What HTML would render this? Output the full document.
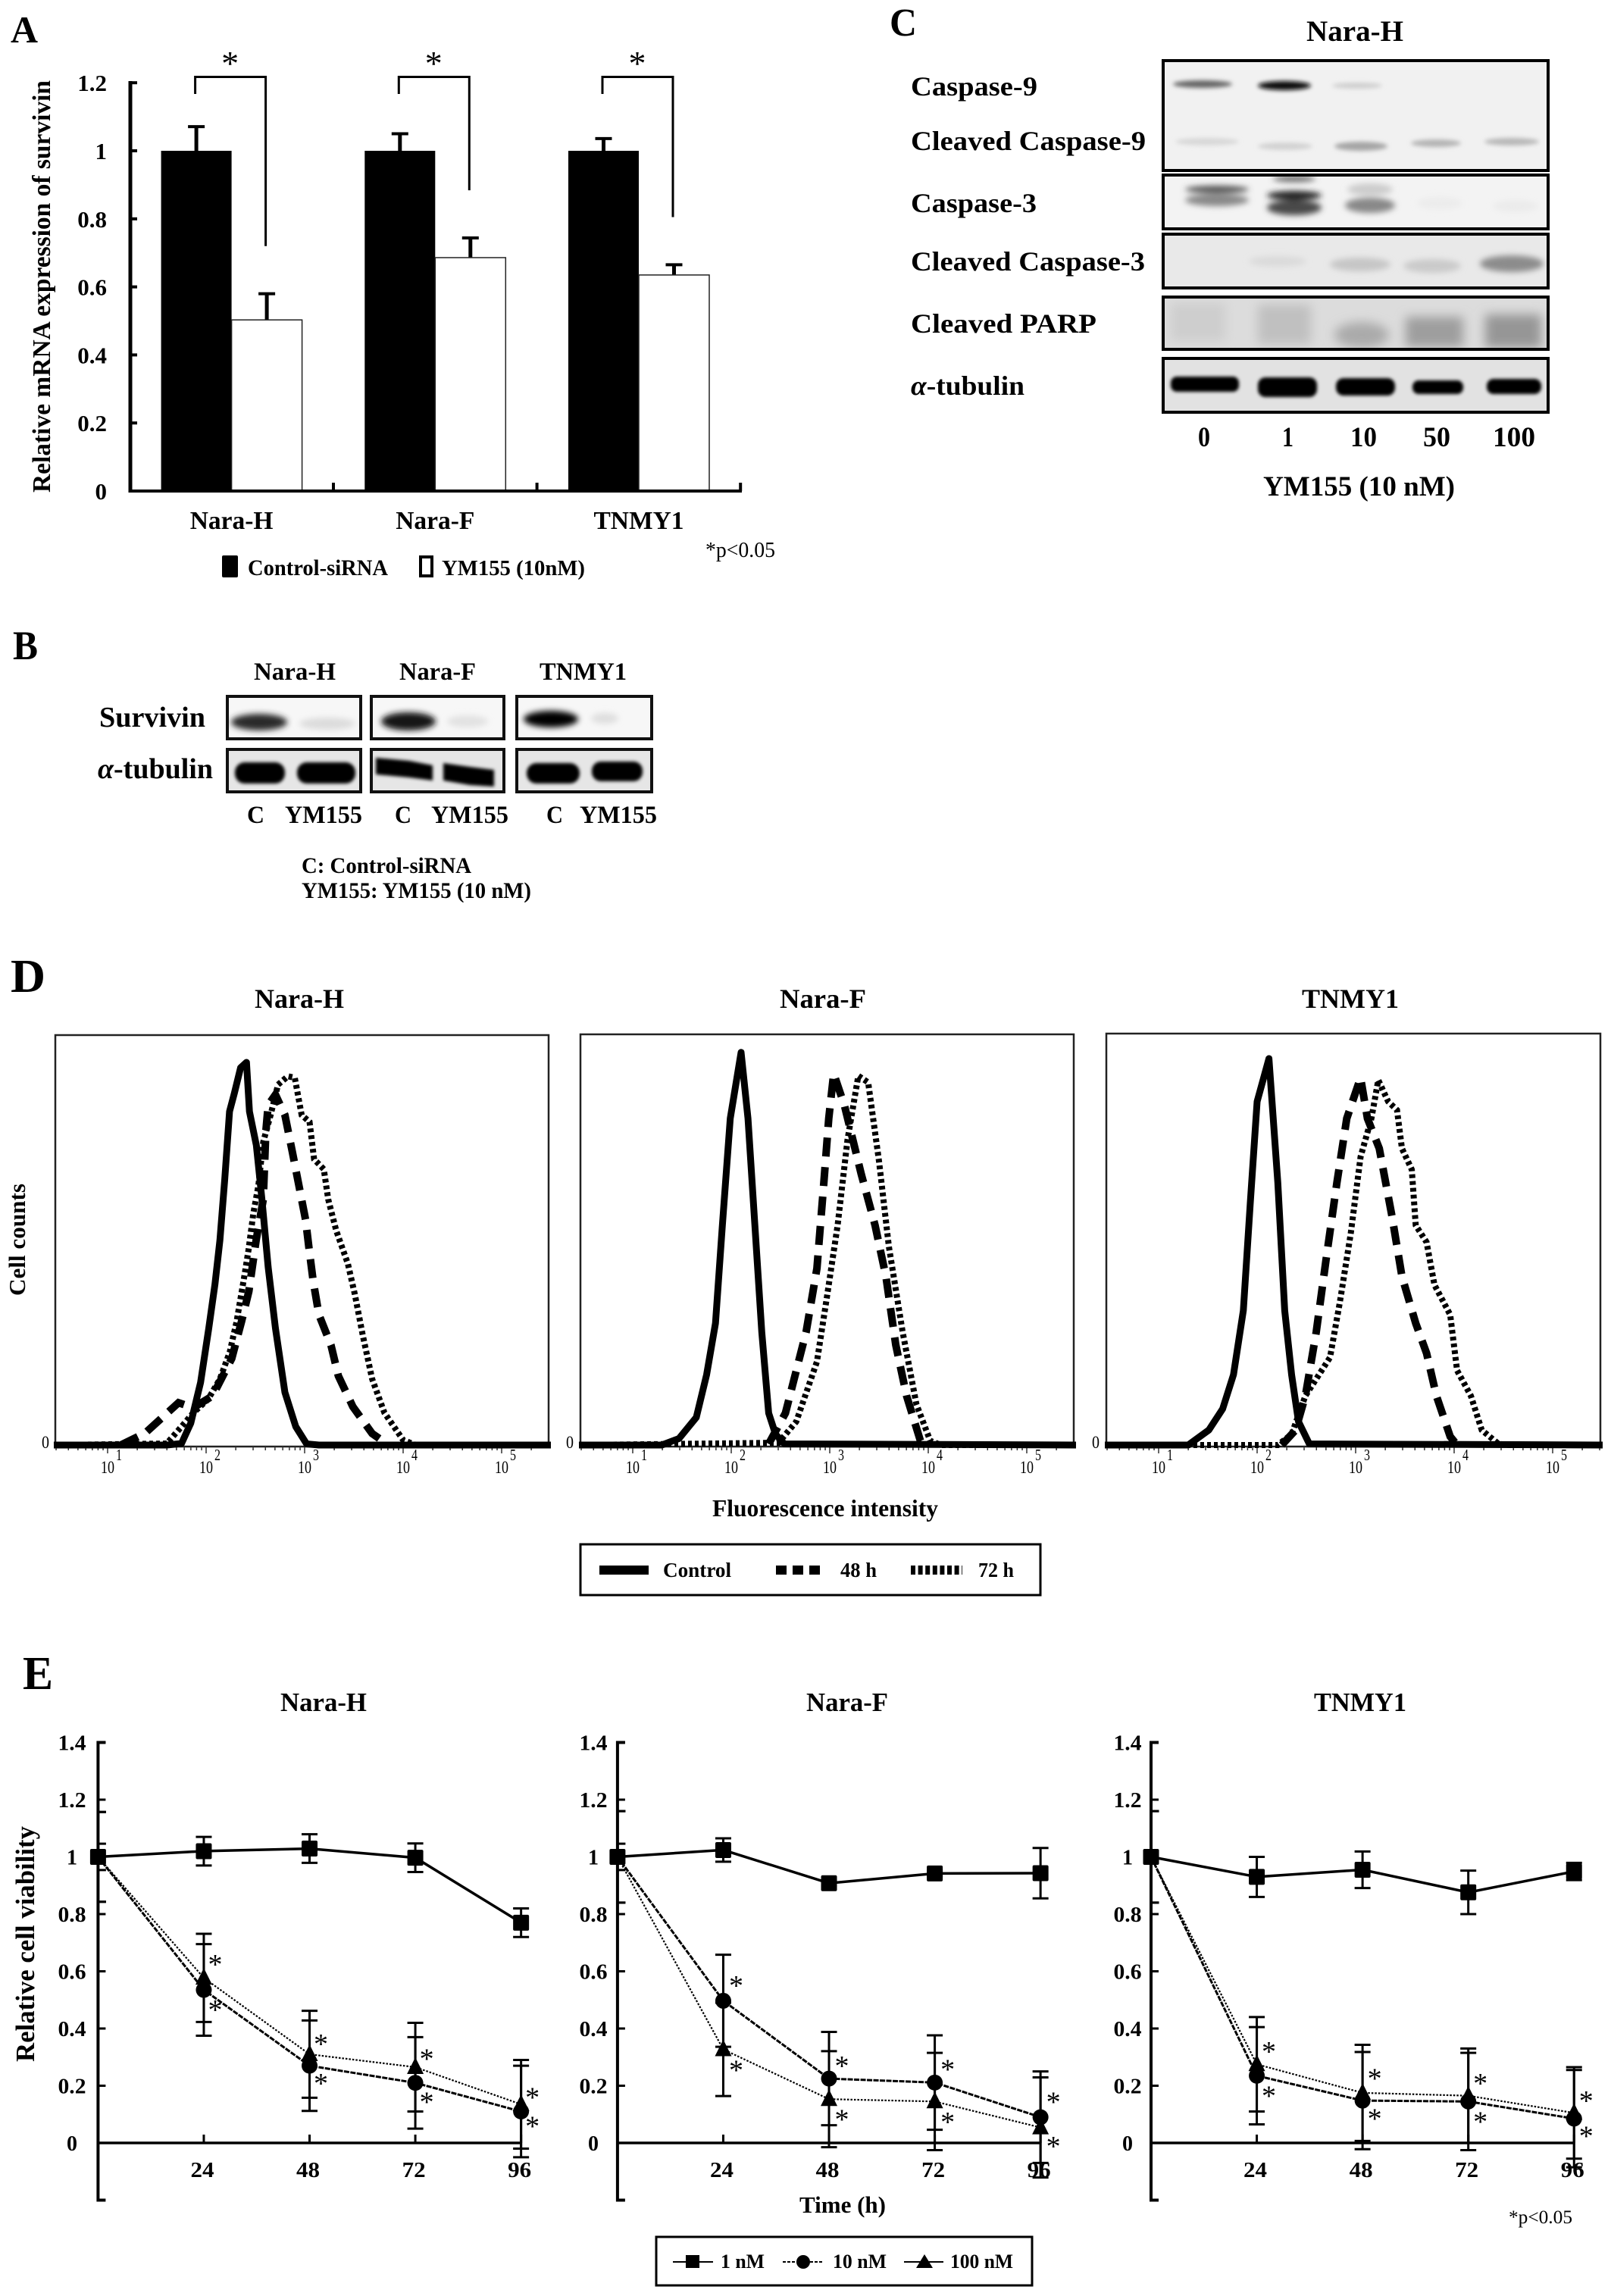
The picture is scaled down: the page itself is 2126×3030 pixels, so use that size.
<!DOCTYPE html>
<html lang="en">
<head>
<meta charset="utf-8">
<title>YM155 survivin figure</title>
<style>
html,body{margin:0;padding:0;background:#fff;width:2126px;height:3030px;overflow:hidden}
svg{display:block}
text{fill:#000}
.b{font-weight:bold}
</style>
</head>
<body>
<svg id="figure" xmlns="http://www.w3.org/2000/svg" width="2126" height="3030" viewBox="0 0 2126 3030" font-family="'Liberation Serif',serif">
<defs>
<filter id="b2" x="-30%" y="-60%" width="160%" height="220%"><feGaussianBlur stdDeviation="2"/></filter>
<filter id="b25" x="-30%" y="-200%" width="160%" height="500%"><feGaussianBlur stdDeviation="3"/></filter>
<filter id="b3" x="-30%" y="-80%" width="160%" height="260%"><feGaussianBlur stdDeviation="4"/></filter>
<filter id="b6" x="-40%" y="-100%" width="180%" height="300%"><feGaussianBlur stdDeviation="7"/></filter>
<clipPath id="blotClip">
<rect x="300" y="919" width="176" height="56"/><rect x="490" y="919" width="175" height="56"/><rect x="682" y="919" width="178" height="56"/>
<rect x="300" y="989" width="176" height="56"/><rect x="490" y="989" width="175" height="56"/><rect x="682" y="989" width="178" height="56"/>
<rect x="1535" y="80" width="508" height="145"/><rect x="1535" y="231" width="508" height="71"/><rect x="1535" y="309" width="508" height="71"/><rect x="1535" y="392" width="508" height="69"/><rect x="1535" y="473" width="508" height="71"/>
</clipPath>
</defs>

<!-- Panel letters -->
<text class="b" x="14" y="56" font-size="50" textLength="36" lengthAdjust="spacingAndGlyphs">A</text>
<text class="b" x="17" y="870" font-size="54" textLength="33" lengthAdjust="spacingAndGlyphs">B</text>
<text class="b" x="1174" y="47" font-size="52" textLength="36" lengthAdjust="spacingAndGlyphs">C</text>
<text class="b" x="14" y="1309" font-size="62" textLength="46" lengthAdjust="spacingAndGlyphs">D</text>
<text class="b" x="30" y="2229" font-size="62" textLength="40" lengthAdjust="spacingAndGlyphs">E</text>

<!-- Panel A static text -->
<g id="panelA">
<text class="b" transform="translate(66,650) rotate(-90)" font-size="33.5" textLength="544" lengthAdjust="spacingAndGlyphs">Relative mRNA expression of survivin</text>
<text x="931" y="735" font-size="28" textLength="92" lengthAdjust="spacingAndGlyphs">*p&lt;0.05</text>
<rect x="293" y="733" width="21" height="29" rx="2" fill="#000"/>
<text class="b" x="327" y="759" font-size="30" textLength="185" lengthAdjust="spacingAndGlyphs">Control-siRNA</text>
<rect x="555" y="735" width="15" height="25" fill="#fff" stroke="#000" stroke-width="4"/>
<text class="b" x="583" y="759" font-size="29" textLength="189" lengthAdjust="spacingAndGlyphs">YM155 (10nM)</text>
</g>

<!-- Panel B -->
<g>
<text class="b" x="335" y="897" font-size="33" textLength="108" lengthAdjust="spacingAndGlyphs">Nara-H</text>
<text class="b" x="527" y="897" font-size="33" textLength="101" lengthAdjust="spacingAndGlyphs">Nara-F</text>
<text class="b" x="712" y="897" font-size="33" textLength="115" lengthAdjust="spacingAndGlyphs">TNMY1</text>
<text class="b" x="131" y="959" font-size="38" textLength="140" lengthAdjust="spacingAndGlyphs">Survivin</text>
<text class="b" x="129" y="1027" font-size="38" textLength="152" lengthAdjust="spacingAndGlyphs"><tspan font-style="italic">α</tspan>-tubulin</text>
<g fill="#f7f7f7">
<rect x="300" y="919" width="176" height="56"/>
<rect x="490" y="919" width="175" height="56"/>
<rect x="682" y="919" width="178" height="56"/>
</g>
<g fill="#e6e6e6">
<rect x="300" y="989" width="176" height="56"/>
<rect x="490" y="989" width="175" height="56"/>
<rect x="682" y="989" width="178" height="56"/>
</g>
<g clip-path="url(#blotClip)">
<g filter="url(#b3)">
<ellipse cx="342" cy="953" rx="37" ry="11" fill="#2a2a2a"/><ellipse cx="432" cy="955" rx="37" ry="8" fill="#dcdcdc"/>
<ellipse cx="539" cy="952" rx="36" ry="12" fill="#161616"/><ellipse cx="617" cy="952" rx="27" ry="8" fill="#e2e2e2"/>
<ellipse cx="727" cy="949" rx="36" ry="11" fill="#000"/><ellipse cx="798" cy="948" rx="18" ry="7" fill="#dedede"/>
</g>
<g filter="url(#b2)" fill="#000">
<rect x="310" y="1006" width="66" height="28" rx="13"/><rect x="392" y="1006" width="77" height="28" rx="13"/>
<polygon points="496,1000 540,1004 571,1010 571,1030 540,1026 496,1022"/><polygon points="585,1007 620,1012 652,1016 652,1038 620,1036 585,1030"/>
<rect x="695" y="1007" width="70" height="27" rx="13"/><rect x="781" y="1005" width="67" height="26" rx="12"/>
</g>
</g>
<g fill="none" stroke="#111" stroke-width="4">
<rect x="300" y="919" width="176" height="56"/>
<rect x="490" y="919" width="175" height="56"/>
<rect x="682" y="919" width="178" height="56"/>
<rect x="300" y="989" width="176" height="56"/>
<rect x="490" y="989" width="175" height="56"/>
<rect x="682" y="989" width="178" height="56"/>
</g>
<g class="b" font-size="33">
<text x="326" y="1086" textLength="23" lengthAdjust="spacingAndGlyphs">C</text>
<text x="376" y="1086" textLength="102" lengthAdjust="spacingAndGlyphs">YM155</text>
<text x="521" y="1086" textLength="22" lengthAdjust="spacingAndGlyphs">C</text>
<text x="569" y="1086" textLength="102" lengthAdjust="spacingAndGlyphs">YM155</text>
<text x="721" y="1086" textLength="22" lengthAdjust="spacingAndGlyphs">C</text>
<text x="765" y="1086" textLength="102" lengthAdjust="spacingAndGlyphs">YM155</text>
</g>
<g class="b" font-size="30">
<text x="398" y="1152" textLength="224" lengthAdjust="spacingAndGlyphs">C: Control-siRNA</text>
<text x="398" y="1185" textLength="303" lengthAdjust="spacingAndGlyphs">YM155: YM155 (10 nM)</text>
</g>
</g>

<!-- Panel C -->
<g>
<text class="b" x="1724" y="54" font-size="39" textLength="128" lengthAdjust="spacingAndGlyphs">Nara-H</text>
<g class="b" font-size="36">
<text x="1202" y="126" textLength="167" lengthAdjust="spacingAndGlyphs">Caspase-9</text>
<text x="1202" y="198" textLength="310" lengthAdjust="spacingAndGlyphs">Cleaved Caspase-9</text>
<text x="1202" y="280" textLength="166" lengthAdjust="spacingAndGlyphs">Caspase-3</text>
<text x="1202" y="357" textLength="309" lengthAdjust="spacingAndGlyphs">Cleaved Caspase-3</text>
<text x="1202" y="439" textLength="245" lengthAdjust="spacingAndGlyphs">Cleaved PARP</text>
<text x="1202" y="521" textLength="150" lengthAdjust="spacingAndGlyphs"><tspan font-style="italic">α</tspan>-tubulin</text>
</g>
<rect x="1535" y="80" width="508" height="145" fill="#f1f1f1"/>
<rect x="1535" y="231" width="508" height="71" fill="#f3f3f3"/>
<rect x="1535" y="309" width="508" height="71" fill="#e9e9e9"/>
<rect x="1535" y="392" width="508" height="69" fill="#dcdcdc"/>
<rect x="1535" y="473" width="508" height="71" fill="#e2e2e2"/>
<g clip-path="url(#blotClip)">
<g filter="url(#b25)">
<ellipse cx="1587" cy="111" rx="39" ry="5" fill="#666"/><ellipse cx="1695" cy="113" rx="35" ry="6" fill="#111"/><ellipse cx="1791" cy="113" rx="33" ry="4" fill="#cfcfcf"/>
<ellipse cx="1593" cy="187" rx="42" ry="5" fill="#d8d8d8"/><ellipse cx="1696" cy="193" rx="36" ry="5" fill="#d2d2d2"/><ellipse cx="1796" cy="193" rx="35" ry="6" fill="#a5a5a5"/>
<ellipse cx="1895" cy="189" rx="33" ry="5" fill="#b4b4b4"/><ellipse cx="1995" cy="187" rx="36" ry="5" fill="#b8b8b8"/>
</g>
<g filter="url(#b3)">
<ellipse cx="1606" cy="250" rx="42" ry="5" fill="#555"/><ellipse cx="1606" cy="264" rx="42" ry="8" fill="#888"/>
<ellipse cx="1708" cy="236" rx="28" ry="4" fill="#666"/><ellipse cx="1708" cy="258" rx="36" ry="6" fill="#222"/><ellipse cx="1708" cy="274" rx="36" ry="10" fill="#4a4a4a"/>
<ellipse cx="1808" cy="271" rx="33" ry="10" fill="#888"/><ellipse cx="1808" cy="250" rx="30" ry="8" fill="#ccc"/>
<ellipse cx="1900" cy="268" rx="30" ry="8" fill="#ececec"/><ellipse cx="2000" cy="272" rx="30" ry="8" fill="#ebebeb"/>
</g>
<g filter="url(#b3)">
<ellipse cx="1686" cy="345" rx="38" ry="7" fill="#dadada"/><ellipse cx="1795" cy="349" rx="40" ry="9" fill="#c6c6c6"/>
<ellipse cx="1890" cy="351" rx="38" ry="9" fill="#cacaca"/><ellipse cx="1995" cy="348" rx="42" ry="11" fill="#8c8c8c"/>
</g>
<g filter="url(#b6)">
<rect x="1545" y="400" width="72" height="50" fill="#cecece"/><rect x="1660" y="402" width="70" height="52" fill="#c0c0c0"/>
<ellipse cx="1797" cy="442" rx="36" ry="17" fill="#aaa"/><rect x="1855" y="418" width="76" height="40" fill="#9e9e9e"/><rect x="1960" y="415" width="74" height="44" fill="#969696"/>
</g>
<g filter="url(#b2)" fill="#000">
<rect x="1545" y="497" width="90" height="20" rx="8"/><rect x="1660" y="498" width="78" height="26" rx="10"/>
<rect x="1763" y="499" width="78" height="23" rx="10"/><rect x="1864" y="502" width="67" height="18" rx="8"/><rect x="1962" y="500" width="72" height="20" rx="9"/>
</g>
</g>
<g fill="none" stroke="#000" stroke-width="4">
<rect x="1535" y="80" width="508" height="145"/>
<rect x="1535" y="231" width="508" height="71"/>
<rect x="1535" y="309" width="508" height="71"/>
<rect x="1535" y="392" width="508" height="69"/>
<rect x="1535" y="473" width="508" height="71"/>
</g>
<g class="b" font-size="37">
<text x="1581" y="589" textLength="16" lengthAdjust="spacingAndGlyphs">0</text>
<text x="1692" y="589" textLength="15" lengthAdjust="spacingAndGlyphs">1</text>
<text x="1782" y="589" textLength="35" lengthAdjust="spacingAndGlyphs">10</text>
<text x="1878" y="589" textLength="36" lengthAdjust="spacingAndGlyphs">50</text>
<text x="1970" y="589" textLength="56" lengthAdjust="spacingAndGlyphs">100</text>
<text x="1667" y="654" textLength="253" lengthAdjust="spacingAndGlyphs">YM155 (10 nM)</text>
</g>
</g>

<!-- Panel D static -->
<g id="panelD">
<text class="b" x="336" y="1330" font-size="36" textLength="118" lengthAdjust="spacingAndGlyphs">Nara-H</text>
<text class="b" x="1029" y="1330" font-size="36" textLength="114" lengthAdjust="spacingAndGlyphs">Nara-F</text>
<text class="b" x="1718" y="1330" font-size="36" textLength="128" lengthAdjust="spacingAndGlyphs">TNMY1</text>
<text class="b" transform="translate(33,1710) rotate(-90)" font-size="31" textLength="148" lengthAdjust="spacingAndGlyphs">Cell counts</text>
<text class="b" x="940" y="2001" font-size="31.5" textLength="298" lengthAdjust="spacingAndGlyphs">Fluorescence intensity</text>
<rect x="766" y="2038" width="607" height="67" fill="#fff" stroke="#000" stroke-width="3"/>
<line x1="791" y1="2072" x2="856" y2="2072" stroke="#000" stroke-width="12"/>
<text class="b" x="875" y="2081" font-size="27" textLength="90" lengthAdjust="spacingAndGlyphs">Control</text>
<line x1="1024" y1="2072" x2="1082" y2="2072" stroke="#000" stroke-width="12" stroke-dasharray="14 8"/>
<text class="b" x="1109" y="2081" font-size="27" textLength="48" lengthAdjust="spacingAndGlyphs">48 h</text>
<line x1="1202" y1="2072" x2="1270" y2="2072" stroke="#000" stroke-width="12" stroke-dasharray="6 3.6"/>
<text class="b" x="1291" y="2081" font-size="27" textLength="47" lengthAdjust="spacingAndGlyphs">72 h</text>
</g>

<!-- Panel E static -->
<g id="panelE">
<text class="b" x="370" y="2258" font-size="35" textLength="114" lengthAdjust="spacingAndGlyphs">Nara-H</text>
<text class="b" x="1064" y="2258" font-size="35" textLength="108" lengthAdjust="spacingAndGlyphs">Nara-F</text>
<text class="b" x="1734" y="2258" font-size="35" textLength="122" lengthAdjust="spacingAndGlyphs">TNMY1</text>
<text class="b" transform="translate(45,2721) rotate(-90)" font-size="35" textLength="311" lengthAdjust="spacingAndGlyphs">Relative cell viability</text>
<text class="b" x="1055" y="2920" font-size="31" textLength="114" lengthAdjust="spacingAndGlyphs">Time (h)</text>
<text x="1991" y="2934" font-size="25.5" textLength="84" lengthAdjust="spacingAndGlyphs">*p&lt;0.05</text>
<rect x="866" y="2952" width="496" height="64" fill="#fff" stroke="#000" stroke-width="3"/>
<line x1="888" y1="2985" x2="941" y2="2985" stroke="#000" stroke-width="2"/>
<rect x="905" y="2976" width="18" height="17"/>
<text class="b" x="951" y="2993" font-size="26" textLength="58" lengthAdjust="spacingAndGlyphs">1 nM</text>
<line x1="1033" y1="2985" x2="1085" y2="2985" stroke="#000" stroke-width="2" stroke-dasharray="4 2"/>
<circle cx="1060" cy="2985" r="9"/>
<text class="b" x="1099" y="2993" font-size="26" textLength="71" lengthAdjust="spacingAndGlyphs">10 nM</text>
<line x1="1193" y1="2985" x2="1245" y2="2985" stroke="#000" stroke-width="2"/>
<polygon points="1220,2975 1209,2993 1231,2993"/>
<text class="b" x="1254" y="2993" font-size="26" textLength="83" lengthAdjust="spacingAndGlyphs">100 nM</text>
</g>
</svg>

<script>
/* ---------- Panel A data ---------- */
const barCategories = ['Nara-H', 'Nara-F', 'TNMY1'];
const barControl = [1, 1, 1];
const barControlErr = [0.071, 0.05, 0.036];
const barYm155 = [0.503, 0.686, 0.635];
const barYm155Err = [0.077, 0.058, 0.03];
const barTickLabels = ['0', '0.2', '0.4', '0.6', '0.8', '1', '1.2'];
const barTickValues = [0, 0.2, 0.4, 0.6, 0.8, 1, 1.2];

/* ---------- Panel D data: log10 intensity and relative counts ---------- */
const decades = [1, 2, 3, 4, 5];

const fhControlLog = [1.6,1.75,1.845,1.944,2.027,2.09,2.14,2.189,2.238,2.287,2.35,2.41,2.44,2.51,2.567,2.63,2.704,2.8,2.91,3.02,3.145];
const fhControlCount = [0,0.4,5.7,16.3,30.4,41.9,53.3,69.2,86.8,91.6,98.2,99.6,86.8,78,63.9,46.3,30.4,13.7,4.8,0.3,0];
const fh48Log = [1.134,1.38,1.72,1.87,2.066,2.26,2.36,2.434,2.508,2.58,2.606,2.63,2.704,2.8,2.876,2.95,3.01,3.047,3.087,3.145,3.268,3.342,3.489,3.685,3.83];
const fh48Count = [0,3.1,11,9.7,12.8,22.5,32.2,40,53.3,63.9,81.5,88.5,91.2,85.9,76.2,66.5,58.6,50.7,42.7,33.9,26,18,10,3,0.4];
const fh72Log = [1.6,1.75,1.87,2.02,2.14,2.24,2.31,2.38,2.43,2.48,2.53,2.58,2.655,2.73,2.83,2.9,2.97,3.05,3.096,3.195,3.24,3.32,3.44,3.51,3.59,3.685,3.81,4.0,4.13];
const fh72Count = [0.4,4.8,8.4,11.9,17.2,24.2,32.2,42.7,50.7,60.4,67.4,78.9,85.9,93.8,96,95.6,85.9,84.1,74.4,71.8,63.9,55.9,47.1,39.2,28.6,17.2,8.4,1.3,0];

const ffControlLog = [1.295,1.47,1.645,1.75,1.84,1.91,1.99,2.1,2.17,2.24,2.31,2.38,2.45,2.54];
const ffControlCount = [0,1.7,7.2,18.3,31.7,57.2,85,102.2,85,57.2,29.4,8.3,2.8,0.3];
const ff48Log = [2.38,2.55,2.76,2.87,2.94,2.99,3.04,3.15,3.32,3.46,3.57,3.67,3.78,3.92,3.99];
const ff48Count = [0.3,8.3,29.4,46,68.3,85,96.7,88.3,70.5,57.2,43.9,26.1,12.8,1.1,0];
const ff72Log = [2.48,2.66,2.87,2.97,3.08,3.18,3.29,3.39,3.5,3.6,3.74,3.88,4.02,4.13];
const ff72Count = [0.6,6.1,21.7,38.3,57.2,79.4,96.1,94.4,73.9,51.7,29.4,10.6,1.1,0];

const ftControlLog = [1.3,1.51,1.65,1.76,1.86,1.93,2.0,2.12,2.21,2.28,2.35,2.42,2.53];
const ftControlCount = [0,3.9,9.4,18.3,35,62.8,89.4,100.6,68.3,35,18.3,6.1,0.3];
const ft48Log = [2.25,2.39,2.49,2.6,2.7,2.81,2.91,3.05,3.12,3.24,3.37,3.47,3.61,3.72,3.82,3.96,4.03];
const ft48Count = [0,3.9,12.8,29.4,48.3,68.3,85,95.6,85,77.2,59.4,43.9,31.7,23.9,12.8,2.2,0];
const ft72Log = [2.21,2.35,2.49,2.74,2.84,2.95,3.05,3.16,3.23,3.33,3.42,3.47,3.57,3.61,3.72,3.8,3.96,4.03,4.17,4.28,4.45,4.56];
const ft72Count = [0,2.8,12.8,22.8,37.2,55,75,85,95,89.4,87.2,77.2,71.7,57.2,52.8,41.7,33.9,19.4,12.8,3.9,0.3,0];

/* ---------- Panel E data ---------- */
const timePoints = [0, 24, 48, 72, 96];
const timeTickLabels = ['24', '48', '72', '96'];
const viabilityTickValues = [0, 0.2, 0.4, 0.6, 0.8, 1, 1.2, 1.4];
const viabilityTickLabels = ['0', '0.2', '0.4', '0.6', '0.8', '1', '1.2', '1.4'];

const vh1 = [1, 1.02, 1.029, 0.997, 0.77];
const vh1Err = [0.046, 0.05, 0.05, 0.05, 0.05];
const vh10 = [1, 0.535, 0.27, 0.21, 0.11];
const vh10Err = [0.157, 0.16, 0.158, 0.16, 0.16];
const vh100 = [1, 0.577, 0.31, 0.265, 0.135];
const vh100Err = [0.157, 0.154, 0.152, 0.155, 0.155];
const vhStarsHigh = [0.639, 0.36, 0.308, 0.174];
const vhStarsLow = [0.48, 0.222, 0.157, 0.073];

const vf1 = [1, 1.024, 0.908, 0.942, 0.943];
const vf1Err = [0.046, 0.041, 0.01, 0.01, 0.088];
const vf10 = [1, 0.497, 0.225, 0.211, 0.09];
const vf10Err = [0.16, 0.161, 0.163, 0.165, 0.16];
const vf100 = [1, 0.327, 0.153, 0.145, 0.054];
const vf100Err = [0.16, 0.163, 0.168, 0.17, 0.175];
const vfStarsHigh = [0.564, 0.283, 0.272, 0.157];
const vfStarsLow = [0.269, 0.097, 0.087, 0.003];

const vt1 = [1, 0.93, 0.955, 0.876, 0.949];
const vt1Err = [0.02, 0.07, 0.064, 0.076, 0.03];
const vt10 = [1, 0.235, 0.148, 0.145, 0.085];
const vt10Err = [0.16, 0.17, 0.17, 0.17, 0.17];
const vt100 = [1, 0.275, 0.175, 0.165, 0.105];
const vt100Err = [0.16, 0.165, 0.168, 0.165, 0.16];
const vtStarsHigh = [0.334, 0.24, 0.222, 0.161];
const vtStarsLow = [0.179, 0.099, 0.089, 0.038];

/* ---------- helpers ---------- */
const SVGNS = 'http://www.w3.org/2000/svg';
function mk(tag, parent, attrs, txt) {
  const e = document.createElementNS(SVGNS, tag);
  for (const k in attrs) e.setAttribute(k, attrs[k]);
  if (txt !== undefined) e.textContent = txt;
  parent.appendChild(e);
  return e;
}

/* ---------- Panel A drawing ---------- */
(function () {
  const root = document.getElementById('panelA');
  const axisX = 172, baseY = 648;
  const y = v => baseY - 449 * v;
  const groupLeft = i => 212.6 + 268.7 * i;
  const barW = 93;
  let el;

  barTickValues.forEach((v, i) => {
    el = mk('line', root, { x1: axisX, x2: axisX + 9, y1: y(v), y2: y(v), stroke: '#000', 'stroke-width': 4 });
    
    
    el = mk('text', root, { x: 141, y: y(v) + 11, 'text-anchor': 'end', 'font-size': 31, 'font-weight': 'bold' }, barTickLabels[i]);
    
    
  });

  barCategories.forEach((name, i) => {
    const l = groupLeft(i);
    const topC = y(barControl[i]), topY = y(barYm155[i]);
    const cx1 = l + barW / 2, cx2 = l + barW * 1.5;

    el = mk('line', root, { x1: cx1, x2: cx1, y1: topC, y2: y(barControl[i] + barControlErr[i]), stroke: '#000', 'stroke-width': 5 });
    
    
    el = mk('line', root, { x1: cx1 - 11, x2: cx1 + 11, y1: y(barControl[i] + barControlErr[i]), y2: y(barControl[i] + barControlErr[i]), stroke: '#000', 'stroke-width': 4 });
    
    
    el = mk('line', root, { x1: cx2, x2: cx2, y1: topY, y2: y(barYm155[i] + barYm155Err[i]), stroke: '#000', 'stroke-width': 5 });
    
    
    el = mk('line', root, { x1: cx2 - 11, x2: cx2 + 11, y1: y(barYm155[i] + barYm155Err[i]), y2: y(barYm155[i] + barYm155Err[i]), stroke: '#000', 'stroke-width': 4 });
    
    

    el = mk('rect', root, { x: l, y: topC, width: barW, height: baseY - topC, fill: '#000' });
    
    
    el = mk('rect', root, { x: l + barW, y: topY, width: barW, height: baseY - topY, fill: '#fff', stroke: '#222', 'stroke-width': 1.5 });
    
    

    /* significance bracket, hung from the top of the chart */
    const bl = l + 45, br = l + 138;
    const bracketBottom = y(barYm155[i] + barYm155Err[i] + 0.14);
    el = mk('path', root, { d: 'M' + bl + ' 124V101.5H' + br + 'V' + bracketBottom, fill: 'none', stroke: '#000', 'stroke-width': 3 });
    
    
    el = mk('text', root, { x: l + 91, y: 99, 'text-anchor': 'middle', 'font-size': 46 }, '*');
    
    

    el = mk('text', root, { x: l + 93, y: 698, 'text-anchor': 'middle', 'font-size': 33.5, 'font-weight': 'bold' }, name);
    
    

    el = mk('line', root, { x1: 440 + 268.6 * i, x2: 440 + 268.6 * i, y1: baseY, y2: baseY - 11, stroke: '#000', 'stroke-width': 4 });
    
    
  });

  el = mk('line', root, { x1: axisX, x2: axisX, y1: 107, y2: 650, stroke: '#000', 'stroke-width': 5 });
  
  
  el = mk('line', root, { x1: axisX, x2: 979, y1: baseY, y2: baseY, stroke: '#000', 'stroke-width': 4 });
  
  
})();

/* ---------- Panel D drawing ---------- */
function drawHistogram(left, right, top, zeroX, ctrlLog, ctrlCnt, h48Log, h48Cnt, h72Log, h72Cnt) {
  const root = document.getElementById('panelD');
  const base = 1907;
  const x = l => left + 69 + (l - 1) * 130;
  const y = c => base - c * 5.07;
  let el;

  el = mk('rect', root, { x: left, y: top, width: right - left, height: 1909 - top, fill: '#fff', stroke: '#222', 'stroke-width': 2.5 });
  
  

  for (let d = 0; d <= 5; d++) {
    for (let m = 1; m <= 9; m++) {
      const px = x(d + Math.log10(m));
      if (px < left || px > right) continue;
      el = mk('line', root, { x1: px, x2: px, y1: 1909, y2: 1909 + (m === 1 ? 9 : 5), stroke: '#333', 'stroke-width': 1.5 });
      
      
    }
  }
  decades.forEach(d => {
    el = mk('text', root, { x: x(d) - 9, y: 1944, 'font-size': 23, textLength: 18, lengthAdjust: 'spacingAndGlyphs' }, '10');
    
    
    el = mk('text', root, { x: x(d) + 11, y: 1927, 'font-size': 21, textLength: 8, lengthAdjust: 'spacingAndGlyphs' }, String(d));
    
    
  });
  el = mk('text', root, { x: zeroX, y: 1911, 'font-size': 23, textLength: 10, lengthAdjust: 'spacingAndGlyphs' }, '0');
  
  

  const pathOf = (ls, cs) => 'M' + (left - 2) + ' ' + base + ls.map((l, i) => 'L' + x(l).toFixed(1) + ' ' + y(cs[i]).toFixed(1)).join('') + 'L' + (right + 3) + ' ' + base;
  const openPath = (ls, cs) => ls.map((l, i) => (i ? 'L' : 'M') + x(l).toFixed(1) + ' ' + y(cs[i]).toFixed(1)).join('');

  el = mk('path', root, { d: pathOf(h72Log, h72Cnt), fill: 'none', stroke: '#000', 'stroke-width': 8, 'stroke-dasharray': '5 4' });
  
  
  el = mk('path', root, { d: openPath(h48Log, h48Cnt), fill: 'none', stroke: '#000', 'stroke-width': 10, 'stroke-dasharray': '25 14' });
  
  
  el = mk('path', root, { d: pathOf(ctrlLog, ctrlCnt), fill: 'none', stroke: '#000', 'stroke-width': 9, 'stroke-linejoin': 'round' });
  
  
}
drawHistogram(73, 724, 1366, 55, fhControlLog, fhControlCount, fh48Log, fh48Count, fh72Log, fh72Count);
drawHistogram(766, 1417, 1365, 747, ffControlLog, ffControlCount, ff48Log, ff48Count, ff72Log, ff72Count);
drawHistogram(1460, 2112, 1364, 1441, ftControlLog, ftControlCount, ft48Log, ft48Count, ft72Log, ft72Count);

/* ---------- Panel E drawing ---------- */
function drawViability(axisX, labelCenter, s1, s1e, s10, s10e, s100, s100e, starsHigh, starsLow, starOffset) {
  const root = document.getElementById('panelE');
  const x = t => axisX + 5.815 * t;
  const y = v => 2828 - 377.5 * v;
  let el;

  viabilityTickValues.forEach((v, i) => {
    el = mk('line', root, { x1: axisX, x2: axisX + 10, y1: y(v), y2: y(v), stroke: '#000', 'stroke-width': 3 });
    
    
    const lab = viabilityTickLabels[i];
    el = mk('text', root, { x: labelCenter, y: y(v) + 10, 'text-anchor': 'middle', 'font-size': 28, 'font-weight': 'bold' }, lab);
    if (lab.length > 1) el.setAttribute('textLength', 37);
    if (lab.length > 1) el.setAttribute('lengthAdjust', 'spacingAndGlyphs');
    
    
  });
  timeTickLabels.forEach((lab, i) => {
    const px = x(timePoints[i + 1]);
    el = mk('line', root, { x1: px, x2: px, y1: 2828, y2: 2817, stroke: '#000', 'stroke-width': 3 });
    
    
    el = mk('text', root, { x: px - 2, y: 2873, 'text-anchor': 'middle', 'font-size': 29, 'font-weight': 'bold', textLength: 31, lengthAdjust: 'spacingAndGlyphs' }, lab);
    
    
  });
  el = mk('path', root, { d: 'M' + (axisX + 10) + ' ' + y(1.4) + 'H' + axisX + 'V' + y(-0.2) + 'H' + (axisX + 10), fill: 'none', stroke: '#000', 'stroke-width': 4 });
  
  
  el = mk('line', root, { x1: axisX, x2: x(96), y1: 2828, y2: 2828, stroke: '#000', 'stroke-width': 3.5 });
  
  

  [[s1, s1e], [s10, s10e], [s100, s100e]].forEach(pair => {
    pair[0].forEach((v, i) => {
      const px = x(timePoints[i]);
      const hi = y(v + pair[1][i]), lo = y(v - pair[1][i]);
      const capL = i === 0 ? px : px - 10.5;
      el = mk('path', root, { d: 'M' + px + ' ' + hi + 'V' + lo + 'M' + capL + ' ' + hi + 'H' + (px + 10.5) + 'M' + capL + ' ' + lo + 'H' + (px + 10.5), fill: 'none', stroke: '#000', 'stroke-width': 3 });
      
      
    });
  });

  const pts = vals => vals.map((v, i) => x(timePoints[i]).toFixed(1) + ',' + y(v).toFixed(1)).join(' ');
  el = mk('polyline', root, { points: pts(s100), fill: 'none', stroke: '#000', 'stroke-width': 2.2, 'stroke-dasharray': '2.5 2' });
  
  
  el = mk('polyline', root, { points: pts(s10), fill: 'none', stroke: '#000', 'stroke-width': 3, 'stroke-dasharray': '7 1.5' });
  
  
  el = mk('polyline', root, { points: pts(s1), fill: 'none', stroke: '#000', 'stroke-width': 3.5 });
  
  

  s100.forEach((v, i) => {
    if (i === 0) return;
    const px = x(timePoints[i]), py = y(v);
    el = mk('polygon', root, { points: px + ',' + (py - 13) + ' ' + (px - 11) + ',' + (py + 9) + ' ' + (px + 11) + ',' + (py + 9), fill: '#000' });
    
    
  });
  s10.forEach((v, i) => {
    if (i === 0) return;
    el = mk('circle', root, { cx: x(timePoints[i]), cy: y(v), r: 10.5, fill: '#000' });
    
    
  });
  s1.forEach((v, i) => {
    el = mk('rect', root, { x: x(timePoints[i]) - 10.5, y: y(v) - 10.5, width: 21, height: 21, rx: 2, fill: '#000' });
    
    
  });

  starsHigh.forEach((v, i) => {
    el = mk('text', root, { x: x(timePoints[i + 1]) + starOffset, y: y(v) + 18, 'text-anchor': 'middle', 'font-size': 38 }, '*');
    
    
  });
  starsLow.forEach((v, i) => {
    el = mk('text', root, { x: x(timePoints[i + 1]) + starOffset, y: y(v) + 18, 'text-anchor': 'middle', 'font-size': 38 }, '*');
    
    
  });
}
drawViability(129.4, 95, vh1, vh1Err, vh10, vh10Err, vh100, vh100Err, vhStarsHigh, vhStarsLow, 15);
drawViability(814.9, 783, vf1, vf1Err, vf10, vf10Err, vf100, vf100Err, vfStarsHigh, vfStarsLow, 17);
drawViability(1519, 1488, vt1, vt1Err, vt10, vt10Err, vt100, vt100Err, vtStarsHigh, vtStarsLow, 16);
</script>
</body>
</html>
